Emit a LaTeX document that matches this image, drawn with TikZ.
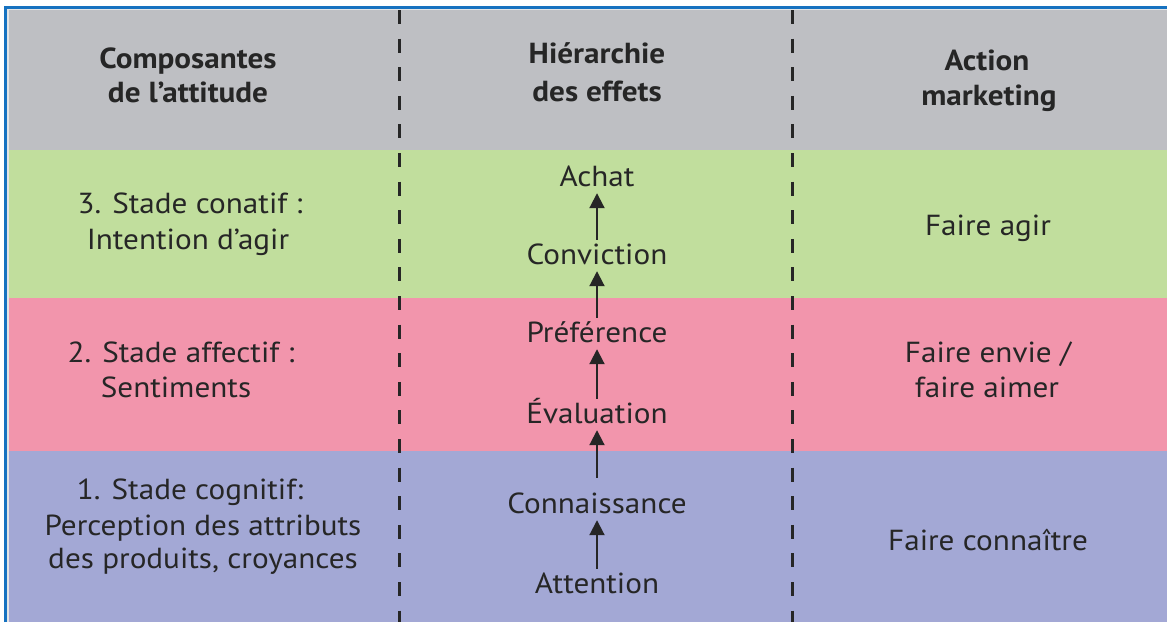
\documentclass[tikz,border=0pt]{standalone}
\usepackage{fontspec}
\setmainfont{PT Sans}[FakeStretch=1.075]
\usetikzlibrary{arrows.meta}
\definecolor{hdrgray}{RGB}{190,191,195}
\definecolor{bandgreen}{RGB}{193,222,157}
\definecolor{bandpink}{RGB}{242,149,172}
\definecolor{bandblue}{RGB}{163,168,213}
\definecolor{frameblue}{RGB}{22,114,192}
\definecolor{txt}{RGB}{38,38,38}
\begin{document}
\begin{tikzpicture}[x=1pt,y=-1pt,
  lbl/.style={anchor=base,inner sep=0pt,text=txt,font=\fontsize{29}{35}\selectfont},
  hdr/.style={lbl,font=\fontsize{29}{35}\selectfont\bfseries},
  stage/.style={lbl,text height=24pt,text depth=7pt},
  up/.style={-{Triangle[width=15pt,length=15pt]},line width=2pt,draw=txt},
  divider/.style={line width=3pt,draw=txt,dash pattern=on 14pt off 14.6pt}]
\useasboundingbox (0,0) rectangle (1167,622);
\fill[white] (0,0) rectangle (1167,622);
% bands
\fill[hdrgray] (9,10) rectangle (1167,150);
\fill[bandgreen] (9,150) rectangle (1167,298);
\fill[bandpink] (9,298) rectangle (1167,451);
\fill[bandblue] (9,451) rectangle (1167,622);
% frame
\draw[line width=2pt,gray!20] (8,622) -- (8,9.2) -- (1167,9.2);
\draw[line width=2.5pt,frameblue] (5.5,622) -- (5.5,7.5) -- (1167,7.5);
% dividers
\coordinate (d1t) at (399,10);
\coordinate (d1b) at (399,622);
\coordinate (d2t) at (792,10);
\coordinate (d2b) at (792,622);
\draw[divider] (d1t) -- (d1b);
\draw[divider] (d2t) -- (d2b);
% headers
\node[hdr] (h1a) at (188,68) {Composantes};
\node[hdr] (h1b) at (188,102) {de l’attitude};
\node[hdr] (h2a) at (597,63) {Hiérarchie};
\node[hdr] (h2b) at (597,101) {des effets};
\node[hdr] (h3a) at (987,70) {Action};
\node[hdr] (h3b) at (989,105) {marketing};
% column 1
\node[lbl] (c3a) at (190,213) {3. Stade conatif :};
\node[lbl] (c3b) at (188,249) {Intention d’agir};
\node[lbl] (c2a) at (181,362) {2. Stade affectif :};
\node[lbl] (c2b) at (176,397) {Sentiments};
\node[lbl] (c1a) at (190,499) {1. Stade cognitif:};
\node[lbl] (c1b) at (203,535) {Perception des attributs};
\node[lbl] (c1c) at (203,568) {des produits, croyances};
% column 2
\node[stage] (achat) at (597,186) {Achat};
\node[stage] (conviction) at (597,264) {Conviction};
\node[stage] (preference) at (597,342) {Préférence};
\node[stage] (evaluation) at (597,423) {Évaluation};
\node[stage] (connaissance) at (597,513) {Connaissance};
\node[stage] (attention) at (597,593) {Attention};
\draw[up] (conviction.north) -- (achat.south);
\draw[up] (preference.north) -- (conviction.south);
\draw[up] (evaluation.north) -- (preference.south);
\draw[up,shorten <=11pt] (connaissance.north) -- (evaluation.south);
\draw[up] (attention.north) -- (connaissance.south);
% column 3
\node[lbl] (a3) at (988,235) {Faire agir};
\node[lbl] (a2a) at (988,362) {Faire envie /};
\node[lbl] (a2b) at (987,397) {faire aimer};
\node[lbl] (a1) at (988,550) {Faire connaître};
\end{tikzpicture}
\end{document}
